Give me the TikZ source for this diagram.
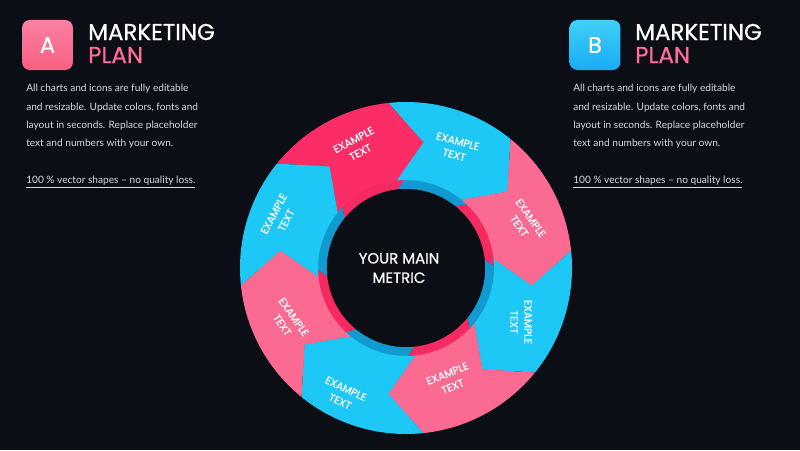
\documentclass[tikz,border=0pt]{standalone}
\usepackage{fontspec}
\setmainfont{Lato}
\newfontfamily\headfont{Poppins}[FakeBold=0.7]
\usetikzlibrary{positioning}
\definecolor{bgdark}{HTML}{0C0E16}
\definecolor{pinkhot}{HTML}{FB2C66}
\definecolor{pinkface}{HTML}{FA6A91}
\definecolor{pinkside}{HTML}{F42A60}
\definecolor{blueface}{HTML}{1EC8F6}
\definecolor{blueside}{HTML}{109AD0}
\definecolor{pinktxt}{HTML}{FF6B9A}
\definecolor{bodytxt}{HTML}{D8D8E0}

\begin{document}
\begin{tikzpicture}[x=0.025cm,y=0.025cm,
  letterbox/.style={minimum width=1.27cm,minimum height=1.25cm,rounded corners=5.5pt,text=white,font=\headfont\fontsize{16}{18}\selectfont},
  titletxt/.style={anchor=west,inner sep=0pt,font=\headfont\fontsize{16.3}{17}\selectfont},
  bodybox/.style={anchor=north west,inner sep=0pt,align=left,text=bodytxt,font=\fontsize{7.2}{13}\selectfont},
  segtxt/.style={text=white,align=center,inner sep=0pt,font=\headfont\fontsize{7.5}{10}\selectfont},
  metric/.style={text=white,align=center,font=\headfont\fontsize{10.6}{13.8}\selectfont}]
  \fill[bgdark] (0,0) rectangle (800,450);
  \coordinate (C) at (406,182);
  \foreach \a/\sc in {141/pinkside,96/blueside,51/pinkside,6/blueside,-39/pinkside,-84/blueside,-129/pinkside,-174/blueside}
    \fill[\sc,shift={(C)},scale=0.9] (\a:166) arc[start angle=\a,end angle=\a-45,radius=166]
      -- ({\a-59}:127) -- ({\a-45}:88) arc[start angle=\a-45,end angle=\a,radius=88] -- ({\a-14}:127) -- cycle;
  \foreach \a/\fc in {141/pinkhot,96/blueface,51/pinkface,6/blueface,-39/pinkface,-84/blueface,-129/pinkface,-174/blueface}
    \fill[\fc,shift={(C)}] (\a:166) arc[start angle=\a,end angle=\a-45,radius=166]
      -- ({\a-59}:127) -- ({\a-45}:88) arc[start angle=\a-45,end angle=\a,radius=88] -- ({\a-14}:127) -- cycle;
  \foreach \x/\y/\r [count=\i] in {357/304/28,456/302/-15,525/228/-55,521/128/-90,450/70/22,343/55/-25,288/129/-55,280/233/62}
    \node[segtxt,rotate=\r] (seg\i) at (\x,\y) {EXAMPLE\\TEXT};
  \node[metric] (metric) at (399,182) {YOUR MAIN\\METRIC};

  \node[letterbox,top color=pinkface!85!white,bottom color=pinkface!90!red] (boxA) at (47.5,405) {A};
  \node[titletxt,text=white] (titleA) at (88,418) {MARKETING};
  \node[titletxt,text=pinktxt] (planA) at (88,395) {PLAN};
  \node[bodybox] (textA) at (26,366) {All charts and icons are fully editable\\and resizable. Update colors, fonts and\\layout in seconds. Replace placeholder\\text and numbers with your own.\\[13pt]\underline{100 \% vector shapes -- no quality loss.}};

  \node[letterbox,top color=blueface!85!white,bottom color=blueface!85!blue] (boxB) at (595,405) {B};
  \node[titletxt,text=white] (titleB) at (635,418) {MARKETING};
  \node[titletxt,text=pinktxt] (planB) at (635,395) {PLAN};
  \node[bodybox] (textB) at (573,366) {All charts and icons are fully editable\\and resizable. Update colors, fonts and\\layout in seconds. Replace placeholder\\text and numbers with your own.\\[13pt]\underline{100 \% vector shapes -- no quality loss.}};
\end{tikzpicture}
\end{document}
